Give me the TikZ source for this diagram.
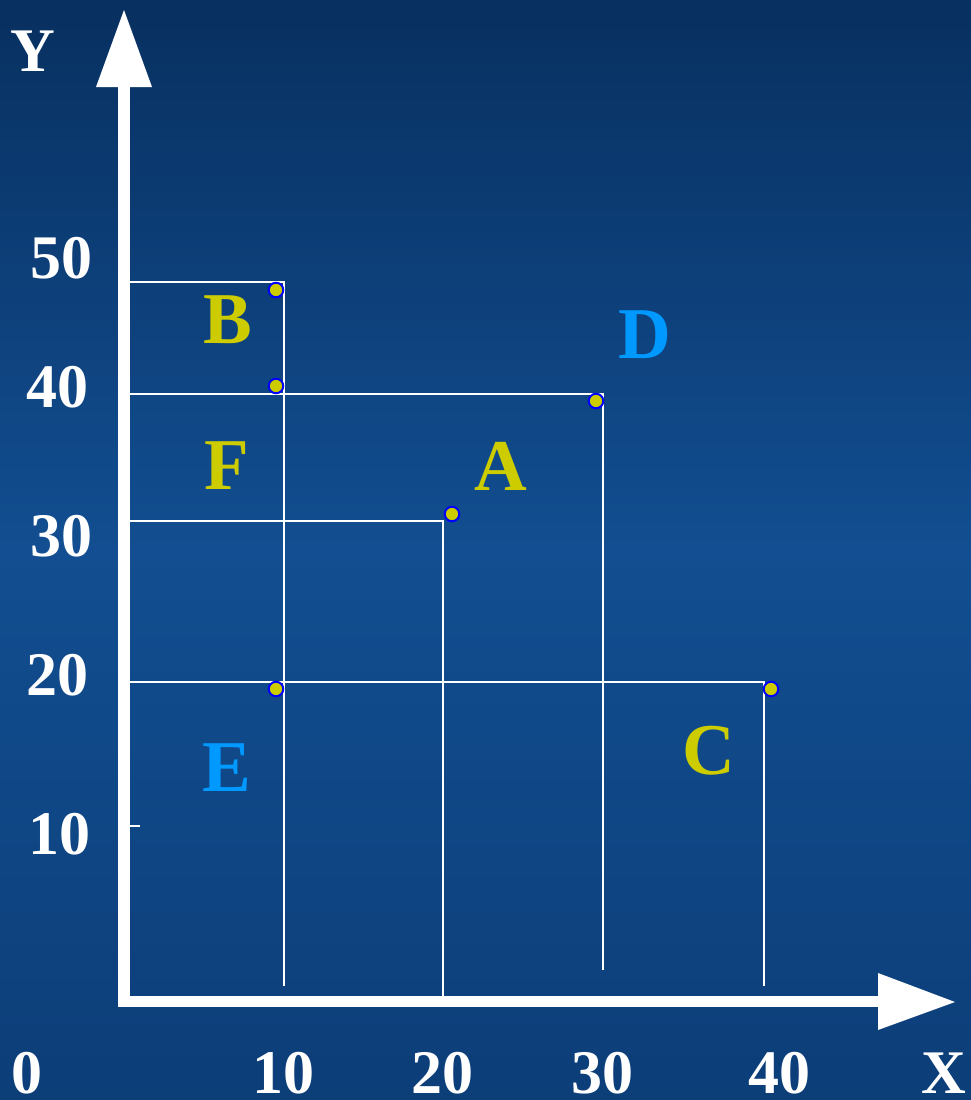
\documentclass[tikz,border=0pt]{standalone}
\usepackage{fontspec}
\setmainfont{Liberation Serif}
\begin{document}
\begin{tikzpicture}[x=1pt,y=-1pt,
  axisnum/.style={inner sep=0pt,text=white,font=\fontsize{62}{62}\selectfont\bfseries},
  region/.style={inner sep=0pt,font=\fontsize{73}{73}\selectfont\bfseries},
  yel/.style={text=ylw},
  blu/.style={text=lblue},
  grid/.style={white,line width=1.8pt},
  dot/.style={circle,inner sep=0pt,minimum size=14.5pt,fill=ylw,draw=pblue,line width=2pt},
  axisline/.style={white}]
\definecolor{ylw}{RGB}{204,204,0}
\definecolor{lblue}{RGB}{0,153,255}
\definecolor{pblue}{RGB}{0,0,255}
\definecolor{bgtop}{RGB}{8,48,96}
\definecolor{bgmid}{RGB}{18,78,145}
\definecolor{bgbot}{RGB}{12,62,120}
\useasboundingbox (0,0) rectangle (971,1100);
\shade[top color=bgtop,bottom color=bgbot,middle color=bgmid] (0,0) rectangle (971,1100);
% thin grid lines
\draw[grid] (130,282) -- (284,282) -- (284,986);
\draw[grid] (130,394) -- (603,394) -- (603,970);
\draw[grid] (130,521) -- (443,521) -- (443,996);
\draw[grid] (130,682) -- (764,682) -- (764,986);
\draw[white,line width=1.8pt] (130,826) -- (140,826);
% axes
\draw[axisline,line width=12pt] (124,1002) -- (124,86);
\fill[white] (96,87) -- (152,87) -- (124,10) -- cycle;
\draw[axisline,line width=11pt] (118,1001.5) -- (879,1001.5);
\fill[white] (878,973) -- (878,1030) -- (955,1002) -- cycle;
% points
\node[dot] (pB) at (276,290) {};
\node[dot] (pF) at (276,386) {};
\node[dot] (pD) at (596,401) {};
\node[dot] (pA) at (452,514) {};
\node[dot] (pE) at (276,689) {};
\node[dot] (pC) at (771,689) {};
% region letters
\node[region,yel] (lB) at (228,320) {B};
\node[region,yel] (lF) at (227,466) {F};
\node[region,yel] (lA) at (501,466) {A};
\node[region,yel] (lC) at (709,751) {C};
\node[region,blu] (lD) at (644.5,335) {D};
\node[region,blu] (lE) at (227,768) {E};
% axis labels
\node[axisnum] (y50) at (61,258) {50};
\node[axisnum] (y40) at (58,387) {40};
\node[axisnum] (y30) at (61,536) {30};
\node[axisnum] (y20) at (58,675) {20};
\node[axisnum] (y10) at (59,834) {10};
\node[axisnum] (x0) at (27.5,1073) {0};
\node[axisnum] (x10) at (283.5,1073) {10};
\node[axisnum] (x20) at (442,1073) {20};
\node[axisnum] (x30) at (602,1073) {30};
\node[axisnum] (x40) at (779,1073) {40};
\node[axisnum] (lX) at (944,1073) {X};
\node[axisnum] (lY) at (33,51) {Y};
\end{tikzpicture}
\end{document}
